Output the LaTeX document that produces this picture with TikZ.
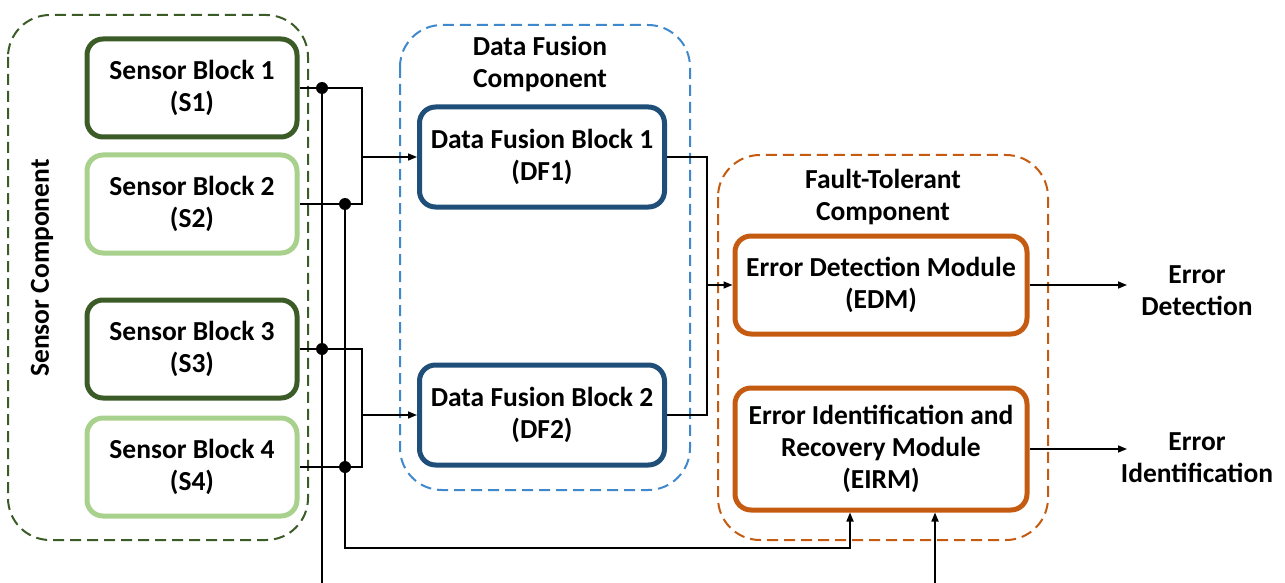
\documentclass[tikz,border=0pt]{standalone}
\usepackage{fontspec}
\setmainfont{Carlito}
\usetikzlibrary{arrows.meta}
\definecolor{dkgreen}{HTML}{3B5B27}
\definecolor{ltgreen}{HTML}{A9D18E}
\definecolor{dkblue}{HTML}{1F4E79}
\definecolor{midblue}{HTML}{3F88CC}
\definecolor{rust}{HTML}{C55A11}
\tikzset{
  txt/.style={font=\fontsize{27.5}{32}\selectfont\bfseries, align=center},
  blk/.style={txt, draw, line width=5pt, rounded corners=16pt, inner sep=0pt},
  sblk/.style={blk, minimum width=210pt, minimum height=98pt},
  dfblk/.style={blk, draw=dkblue, minimum width=245pt, minimum height=100pt},
  ftblk/.style={blk, draw=rust, minimum width=292pt},
  group/.style={line width=2pt, dash pattern=on 11pt off 6pt, rounded corners=42pt},
  wire/.style={line width=1.6pt, black},
  arrow/.style={wire, -{Triangle[length=9pt,width=7pt]}},
  dot/.style={circle, fill=black, inner sep=0pt, minimum size=12pt},
}
\begin{document}
\begin{tikzpicture}[x=1pt, y=-1pt]
\useasboundingbox (0,0) rectangle (1285,583);

% component outlines
\draw[group, draw=dkgreen] (8,15) rectangle (308,540);
\draw[group, draw=midblue] (400,25) rectangle (690,490);
\draw[group, draw=rust] (718,155) rectangle (1048,540);

\node[txt, rotate=90] (sclabel) at (42,268) {Sensor Component};
\node[txt] (dflabel) at (540,64) {Data Fusion\\Component};
\node[txt] (ftlabel) at (883,197) {Fault-Tolerant\\Component};

% sensor blocks
\node[sblk, draw=dkgreen] (s1) at (192,88) {Sensor Block 1\\(S1)};
\node[sblk, draw=ltgreen] (s2) at (192,204) {Sensor Block 2\\(S2)};
\node[sblk, draw=dkgreen] (s3) at (192,349) {Sensor Block 3\\(S3)};
\node[sblk, draw=ltgreen] (s4) at (192,467) {Sensor Block 4\\(S4)};

% data fusion blocks
\node[dfblk] (df1) at (542,157) {Data Fusion Block 1\\(DF1)};
\node[dfblk] (df2) at (542,415) {Data Fusion Block 2\\(DF2)};

% fault-tolerant modules
\node[ftblk, minimum height=98pt] (edm) at (881,285) {Error Detection Module\\(EDM)};
\node[ftblk, minimum height=122pt] (eirm) at (881,449) {Error Identification and\\Recovery Module\\(EIRM)};

% outputs
\node[txt] (outd) at (1197,291) {Error\\Detection};
\node[txt] (outi) at (1197,458) {Error\\Identification};

% routing coordinates
\coordinate (busA) at (322,0);
\coordinate (busB) at (345,0);
\coordinate (mrgS) at (362,0);
\coordinate (mrgD) at (707,0);
\coordinate (tapA) at (850,0);
\coordinate (tapB) at (935,0);
\coordinate (ret) at (0,548);
\coordinate (low) at (0,620);
\coordinate (outx) at (1127,0);

% sensor pairs merged into the fusion blocks
\draw[wire] (s1.east) -- (s1.east -| mrgS) -- (s2.east -| mrgS) -- (s2.east);
\draw[arrow] (df1.west -| mrgS) -- (df1.west);
\draw[wire] (s3.east) -- (s3.east -| mrgS) -- (s4.east -| mrgS) -- (s4.east);
\draw[arrow] (df2.west -| mrgS) -- (df2.west);

% bus from S1/S3 running under the page to the recovery module
\begin{scope}
\clip (0,0) rectangle (1285,583);
\draw[arrow] (s1.east -| busA) -- (busA |- low) -- (tapB |- low) -- (tapB |- eirm.south);
\end{scope}
% bus from S2/S4 to the recovery module
\draw[arrow] (s2.east -| busB) -- (busB |- ret) -- (tapA |- ret) -- (tapA |- eirm.south);

\node[dot] (j1) at (s1.east -| busA) {};
\node[dot] (j3) at (s3.east -| busA) {};
\node[dot] (j2) at (s2.east -| busB) {};
\node[dot] (j4) at (s4.east -| busB) {};

% fused data into the error detection module
\draw[wire] (df1.east) -- (df1.east -| mrgD) -- (df2.east -| mrgD) -- (df2.east);
\draw[arrow] (edm.west -| mrgD) -- (edm.west);

% module outputs
\draw[arrow] (edm.east) -- (edm.east -| outx);
\draw[arrow] (eirm.east) -- (eirm.east -| outx);
\end{tikzpicture}
\end{document}
